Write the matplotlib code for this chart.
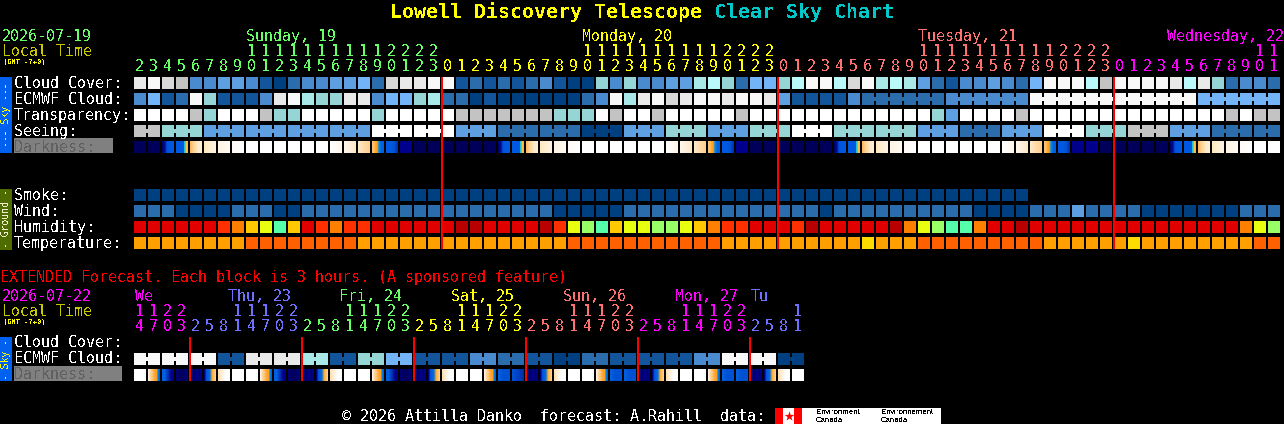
import numpy as np
import matplotlib
matplotlib.use('Agg')
import matplotlib.pyplot as plt
from matplotlib.colors import to_rgb

plt.rcParams['font.family'] = ['DejaVu Sans Mono']
plt.rcParams['text.antialiased'] = False

# hourly chart, one letter per block
hours = [2, 3, 4, 5, 6, 7, 8, 9, 10, 11, 12, 13, 14, 15, 16, 17, 18, 19, 20, 21, 22, 23,
         0, 1, 2, 3, 4, 5, 6, 7, 8, 9, 10, 11, 12, 13, 14, 15, 16, 17, 18, 19, 20, 21, 22, 23,
         0, 1, 2, 3, 4, 5, 6, 7, 8, 9, 10, 11, 12, 13, 14, 15, 16, 17, 18, 19, 20, 21, 22, 23,
         0, 1, 2, 3, 4, 5, 6, 7, 8, 9, 10, 11]
cloud = 'kjlmddeedbacddeefclkkj' 'jbcbcbcdbaagdgddeehigcff' 'gijjiljhihecbddedcfjjjim' 'jjjjkikgcddc'
ecmwf = 'dfbcjgbbbdkjhggkkdffgh' 'ccabaaaaaacdjhkjlkjjkjjk' 'ebbbbdccccccddddddjjjjjj' 'jjjjjjffffff'
ecmwf_spans = [1] * 52 + [6, 6, 12, 6]
transparency = 'wwwwmgwwwmggwwwwwgwwww' 'wmmmmmmmgggwmwwmwwwwwmww' 'wwwwwwwwwwwgewwwwmwwwwww' 'wwwwwwwwmwmm'
seeing_levels = 'mgeeeewweccaegegwggecewgmecc'
seeing_spans = [2] + [3] * 26 + [2]
darkness = 'AApqrstuwwwwwwTSxyzB' 'AAAAAA' 'pqrstuwwwwwwTSxyzB' 'AAAAAA' 'pqrstuwwwwwwTSxyzB' 'BAAAAA' 'pqrstuww'
smoke = 'a' * 64
wind = 'cccaaaacccaa' 'cccccccccccccccccc' 'aaaaa' 'cccccccccccccc' 'a' 'cccccccccc' 'aaaa' 'ccc' 'e' 'cccc' 'aaaaaaa' 'ccc'
humidity = 'RRRRRROPYLMYROPOORRRRR' 'RDDRRRRDOLNMYLLNNLYPOORR' 'RODRRRRRDPLNMMPRRDRRRRRR' 'RRRRRRRRRPLN'
temperature = 'FFFFFFFFHHHHHHHH' 'FFFFFFFFFFFFFFF' 'HHHHHHHHHHH' 'FFFFFFFFFF' 'GFFF' 'HHHHHHHHH' 'FFFFFF' 'GFFFFFFFF' 'HH'
midnights = [22, 46, 70]
day_starts = [0, 22, 46, 70]
day_labels = ['Sunday, 19', 'Monday, 20', 'Tuesday, 21', 'Wednesday, 22']
day_label_x = [246, 582, 918, 1167]
day_colors = ['#66ff66', '#ffff00', '#ff7070', '#ff00ff']

# extended chart, 3 hour blocks
ext_hours = [14, 17, 20, 23, 2, 5, 8, 11, 14, 17, 20, 23, 2, 5, 8, 11, 14, 17, 20, 23, 2, 5, 8, 11,
             14, 17, 20, 23, 2, 5, 8, 11, 14, 17, 20, 23, 2, 5, 8, 11, 14, 17, 20, 23, 2, 5, 8, 11]
ext_ecmwf_levels = 'jjjbkkhbgfbbdcbacbbbdjja'
ext_ecmwf_spans = [2] * 24
ext_darkness = 'wefgmnow' 'wefgmnow' 'wefgmnow' 'weFGmnow' 'weFFmnow' 'weFFmnow'
ext_midnights = [4, 12, 20, 28, 36, 44]
ext_day_starts = [0, 4, 12, 20, 28, 36, 44]
ext_day_labels = ['We', 'Thu, 23', 'Fri, 24', 'Sat, 25', 'Sun, 26', 'Mon, 27', 'Tu']
ext_day_x = [135, 228, 339, 451, 563, 675, 751]
ext_day_colors = ['#ff00ff', '#7070ff', '#66ff66', '#ffff00', '#ff7070', '#ff00ff', '#7070ff']

palette = {
    'a': '#004080', 'b': '#12559a', 'c': '#2b6cad', 'd': '#4a8bcf', 'e': '#5e9fe2', 'f': '#73b4f8',
    'g': '#95d5d5', 'h': '#a8e8e8', 'i': '#b9f9f9', 'j': '#f8f8f8', 'k': '#e9e9e9', 'l': '#d8d8d8',
    'm': '#c3c3c3', 'w': '#ffffff',
    'R': '#e00000', 'D': '#b80000', 'O': '#ff3000', 'P': '#ff8000', 'Y': '#ffc800', 'L': '#e8ff10',
    'N': '#99ff66', 'M': '#55ffaa', 'F': '#ffa000', 'H': '#ff6000', 'G': '#ffdc00',
}
dark_stops = {
    'A': ['#00005a', '#00005a'],
    'B': ['#00008c', '#000090'],
    'p': ['#000070', '#000a90', '#0050d8', '#0058e0', '#0058e0', '#0058e0'],
    'q': ['#0058e0'] * 8 + ['#20c0d0', '#30e0c0', '#ffc040', '#ffb040'],
    'r': ['#ffb860', '#ffd8a0', '#ffe8c8', '#fff0d8'],
    's': ['#ffe8c4', '#fff4e0'],
    't': ['#fff4e4', '#fffaf2'],
    'u': ['#fffaf4', '#ffffff'],
    'w': ['#ffffff', '#ffffff'],
    'T': ['#ffffff', '#fff6ea'],
    'S': ['#fff6ea', '#ffe8c8'],
    'x': ['#ffe8c8', '#ffd08c'],
    'y': ['#f8c070', '#ffc060', '#ffa820', '#ffa020', '#1090e0', '#0070e8', '#0060e0', '#0060e0'],
    'z': ['#0058e0', '#0058e0', '#0058e0', '#0050d0', '#0030b0'],
    'e': ['#fff4e0', '#ffe0b0', '#ffd090', '#ffc070', '#ffb050', '#ffa020', '#ffa020', '#0080e0', '#0060e0'],
    'f': ['#0060e0', '#0060e0', '#0040c0', '#0020a0', '#000090', '#000080'],
    'g': ['#000070', '#000060', '#000060', '#000080'],
    'm': ['#000060', '#000080', '#000060', '#0000a0', '#000060', '#0000a0'],
    'n': ['#000080', '#0050d0', '#0060e0', '#0070e0', '#ffa020', '#ffc060', '#ffd090'],
    'o': ['#ffe0b0', '#fff0e0', '#ffffff', '#ffffff'],
    'F': ['#0060e0', '#0050d0', '#0050d8'],
    'G': ['#0050d0', '#0040c8', '#0030a0'],
}

X0 = 134
STEP = 14
BLOCK = 12

fig = plt.figure(figsize=(12.84, 4.24), dpi=100, facecolor='black')
ax = fig.add_axes([0, 0, 1, 1])
ax.set_facecolor('black')
ax.set_xlim(0, 1284)
ax.set_ylim(424, 0)
ax.set_autoscale_on(False)
ax.axis('off')


def box(x, y, w, h, color, z=2):
    ax.bar(x, h, width=w, bottom=y, align='edge', color=color, linewidth=0, antialiased=False, zorder=z)


def label(x, y, s, color='white', size=10.8, **kw):
    # the va='center' box sits a bit high for this font
    ax.text(x, y + 1.2, s, color=color, fontsize=size, va='center', **kw)


def draw_row(levels, y, spans=None):
    for i, lv in enumerate(levels):
        box(X0 + STEP * i, y, BLOCK, BLOCK, palette[lv])
    if spans is None:
        return
    start = 0
    for n in spans:
        for i in range(start, start + n - 1):
            box(X0 + STEP * i + BLOCK, y + 4, STEP - BLOCK, 4, palette[levels[i]])
        start += n


def draw_darkness(codes, y):
    for i, code in enumerate(codes):
        stops = np.array([to_rgb(c) for c in dark_stops[code]])
        pos = np.linspace(0, 1, len(stops))
        t = np.linspace(0, 1, BLOCK)
        strip = np.stack([np.interp(t, pos, stops[:, k]) for k in range(3)], axis=1)[None, :, :]
        ax.imshow(strip, extent=(X0 + STEP * i, X0 + STEP * i + BLOCK, y + BLOCK, y),
                  aspect='auto', interpolation='nearest', zorder=2)


def draw_hours(hrs, starts, colors, y_tens, y_ones):
    for i, h in enumerate(hrs):
        day = np.searchsorted(starts, i, side='right') - 1
        cx = X0 + STEP * i + 5.5
        if h >= 10:
            label(cx, y_tens, str(h // 10), colors[day], ha='center')
        label(cx, y_ones, str(h % 10), colors[day], ha='center')


def expand(levels, spans):
    return ''.join(lv * n for lv, n in zip(levels, spans))


# title
ax.text(390, 12, 'Lowell Discovery Telescope', color='#ffff00', fontsize=14.4, fontweight='bold', va='center')
ax.text(714, 12, 'Clear Sky Chart', color='#00c8c8', fontsize=14.4, fontweight='bold', va='center')

# left header
label(2, 35, '2026-07-19', '#66ff66')
label(2, 50, 'Local Time', '#c8c800')
label(3, 61, '(GMT -7+0)', '#ffff00', size=5)

for s, x, c in zip(day_labels, day_label_x, day_colors):
    label(x, 35, s, c)
draw_hours(hours, day_starts, day_colors, 50, 65)

# sky rows
draw_row(cloud, 77)
draw_row(ecmwf, 93, ecmwf_spans)
draw_row(transparency, 109)
seeing = expand(seeing_levels, seeing_spans)
draw_row(seeing, 125, seeing_spans)
draw_darkness(darkness, 141)

# ground rows
draw_row(smoke, 189)
draw_row(wind, 205)
draw_row(humidity, 221)
draw_row(temperature, 237)

for m in midnights:
    box(X0 + STEP * m - 1, 77, 2, 172, '#ff0000', z=4)

# row names
for y, s in zip([82, 98, 114, 130], ['Cloud Cover:', 'ECMWF Cloud:', 'Transparency:', 'Seeing:']):
    label(14, y, s)
box(14, 138, 99, 15, '#808080')
label(14, 146, 'Darkness:', '#606060', zorder=3)
for y, s in zip([194, 210, 226, 242], ['Smoke:', 'Wind:', 'Humidity:', 'Temperature:']):
    label(14, y, s)

# side bars
box(0, 77, 12, 76, '#0060f0')
ax.text(6, 115, '--- Sky ---', color='#ffff00', fontsize=7, rotation=90, ha='center', va='center')
box(0, 189, 12, 61, '#4f6c00')
ax.text(6, 219, '- Ground -', color='#f0f0d0', fontsize=7, rotation=90, ha='center', va='center')
box(0, 337, 12, 44, '#0060f0')
ax.text(6, 359, '- Sky -', color='#ffff00', fontsize=7, rotation=90, ha='center', va='center')

# extended forecast
label(0, 276, 'EXTENDED Forecast. Each block is 3 hours. (A sponsored feature)', '#ff0000')
label(2, 295, '2026-07-22', '#ff00ff')
label(2, 310, 'Local Time', '#c8c800')
label(3, 321, '(GMT -7+0)', '#ffff00', size=5)
for s, x, c in zip(ext_day_labels, ext_day_x, ext_day_colors):
    label(x, 295, s, c)
draw_hours(ext_hours, ext_day_starts, ext_day_colors, 310, 325)

ext_ecmwf = expand(ext_ecmwf_levels, ext_ecmwf_spans)
draw_row(ext_ecmwf, 353, ext_ecmwf_spans)
draw_darkness(ext_darkness, 369)
for m in ext_midnights:
    box(X0 + STEP * m - 1, 337, 2, 44, '#ff0000', z=4)

label(14, 341, 'Cloud Cover:')
label(14, 357, 'ECMWF Cloud:')
box(14, 366, 108, 15, '#808080')
label(14, 373, 'Darkness:', '#606060', zorder=3)

# footer
label(342, 415, '\u00a9 2026 Attilla Danko  forecast: A.Rahill  data:')
box(775, 408, 166, 16, '#ffffff')
box(775, 408, 8, 16, '#ff0000', z=3)
box(794, 408, 8, 16, '#ff0000', z=3)
ax.scatter([788.5], [416], marker='*', s=55, color='#ff0000', linewidths=0, zorder=3)
for x, word in zip([816, 881], ['Environment', 'Environnement']):
    ax.text(x, 412, word, color='black', fontsize=5.6, family='Liberation Sans', va='center', zorder=4)
    ax.text(x, 420, 'Canada', color='black', fontsize=5.6, family='Liberation Sans', va='center', zorder=4)

fig.savefig('out.png', dpi=100, facecolor='black')
